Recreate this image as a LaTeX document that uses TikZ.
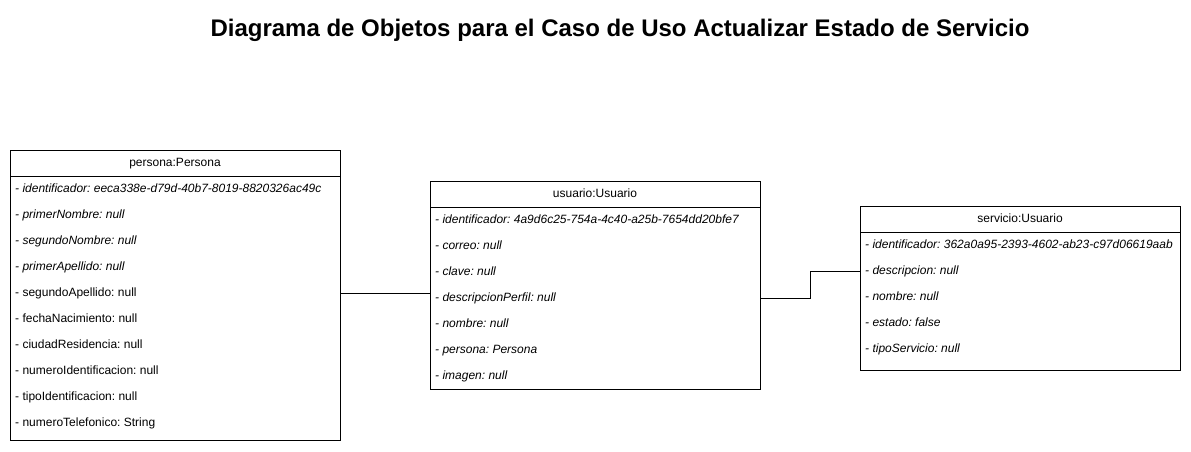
\documentclass[tikz,border=0pt]{standalone}
\usepackage{fontspec}
\setmainfont{Liberation Sans}
\frenchspacing
\begin{document}
\begin{tikzpicture}[x=1pt,y=-1pt,
  objbox/.style={draw=black,line width=1pt,fill=white,anchor=north west,inner sep=0pt,outer sep=0pt},
  hdr/.style={font=\fontsize{12}{14}\selectfont,anchor=center,inner sep=0pt,text height=9pt,text depth=3pt},
  attr/.style={font=\fontsize{12}{14}\selectfont,anchor=west,inner sep=0pt,text height=9pt,text depth=3pt},
  iattr/.style={attr,font=\fontsize{12}{14}\selectfont\itshape},
  conn/.style={draw=black,line width=1pt}]
\useasboundingbox (0,0) rectangle (1191,451);
\node[font=\bfseries\fontsize{24}{28}\selectfont] (title) at (620,30) {Diagrama de Objetos para el Caso de Uso Actualizar Estado de Servicio};

% persona
\node[objbox,minimum width=330pt,minimum height=290pt] (p) at (10,150) {};
\draw[line width=1pt] ([yshift=-26pt]p.north west) -- ([yshift=-26pt]p.north east);
\node[hdr] (ph) at (175,163) {persona:Persona};
\node[iattr] (pr1) at (15,189) {- identificador: eeca338e-d79d-40b7-8019-8820326ac49c};
\node[iattr] (pr2) at (15,215) {- primerNombre: null};
\node[iattr] (pr3) at (15,241) {- segundoNombre: null};
\node[iattr] (pr4) at (15,267) {- primerApellido: null};
\node[attr] (pr5) at (15,293) {- segundoApellido: null};
\node[attr] (pr6) at (15,319) {- fechaNacimiento: null};
\node[attr] (pr7) at (15,345) {- ciudadResidencia: null};
\node[attr] (pr8) at (15,371) {- numeroIdentificacion: null};
\node[attr] (pr9) at (15,397) {- tipoIdentificacion: null};
\node[attr] (pr10) at (15,423) {- numeroTelefonico: String};

% usuario
\node[objbox,minimum width=330pt,minimum height=208pt] (u) at (430,181) {};
\draw[line width=1pt] ([yshift=-26pt]u.north west) -- ([yshift=-26pt]u.north east);
\node[hdr] (uh) at (595,194) {usuario:Usuario};
\node[iattr] (ur1) at (435,220) {- identificador: 4a9d6c25-754a-4c40-a25b-7654dd20bfe7};
\node[iattr] (ur2) at (435,246) {- correo: null};
\node[iattr] (ur3) at (435,272) {- clave: null};
\node[iattr] (ur4) at (435,298) {- descripcionPerfil: null};
\node[iattr] (ur5) at (435,324) {- nombre: null};
\node[iattr] (ur6) at (435,350) {- persona: Persona};
\node[iattr] (ur7) at (435,376) {- imagen: null};

% servicio
\node[objbox,minimum width=320pt,minimum height=164pt] (s) at (860,206) {};
\draw[line width=1pt] ([yshift=-26pt]s.north west) -- ([yshift=-26pt]s.north east);
\node[hdr] (sh) at (1020,219) {servicio:Usuario};
\node[iattr] (sr1) at (865,245) {- identificador: 362a0a95-2393-4602-ab23-c97d06619aab};
\node[iattr] (sr2) at (865,271) {- descripcion: null};
\node[iattr] (sr3) at (865,297) {- nombre: null};
\node[iattr] (sr4) at (865,323) {- estado: false};
\node[iattr] (sr5) at (865,349) {- tipoServicio: null};

% connectors
\draw[conn] (p.east |- pr5) -- (u.west |- pr5);
\coordinate (bend) at (810,0);
\draw[conn] (u.east |- ur4) -- (bend |- ur4) -- (bend |- sr2) -- (s.west |- sr2);
\end{tikzpicture}
\end{document}
